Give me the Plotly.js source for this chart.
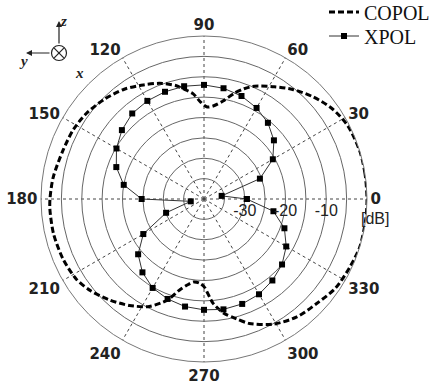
<!DOCTYPE html>
<html>
<head>
<meta charset="utf-8">
<script src="https://cdn.plot.ly/plotly-3.0.1.min.js"></script>
<style>html,body{margin:0;padding:0;background:#fff;}#chart{width:444px;height:383px;}</style>
</head>
<body>
<div id="chart"></div>
<script>
// COPOL pattern (angle in degrees, level in dB)
const copolAngle = [0,9,17,27,35,43,51,58,66,70,74,79,84,88,92,96,101,104,111,118,126,135,144,152,161,172,180,184,193,203,212,219,227,235,243,250,255,259,263,267,270,275,280,285,290,299,308,317,326,335,343,353,360];
const copolDb = [0,0,0,-0.4,-1.5,-3.3,-5.4,-7.5,-9.7,-11.2,-13,-15.5,-17,-17.4,-16.2,-14,-12.4,-11.3,-9.6,-8.3,-6.7,-5.4,-4.3,-3.7,-3.4,-2.6,-2.2,-2.1,-2.1,-2.4,-3,-4.2,-6.1,-8.1,-10.4,-13.6,-16.9,-18.5,-19.5,-19.3,-18.5,-14.3,-11.5,-9.6,-7.5,-4.9,-3.2,-2.3,-1,-0.5,0,0,0];

// XPOL pattern (measured every 10 degrees)
const xpolAngle = [0,10,20,30,40,50,60,70,80,90,100,110,120,130,140,150,160,170,180,190,200,210,220,230,240,250,260,270,280,290,300,310,320,330,340,350,360];
const xpolDb = [-29.5,-35.6,-25.4,-20.5,-17.6,-15.6,-14.2,-13.1,-12.4,-12.0,-11.9,-12.0,-12.2,-12.6,-13.7,-15.2,-17.1,-20.0,-24.7,-36.7,-30.1,-22.8,-18.9,-16.5,-14.8,-13.9,-13.2,-12.8,-12.5,-12.6,-13.0,-13.9,-15.0,-16.7,-19.0,-22.7,-29.5];

// Axis ticks
const radialTickVals = [-40,-35,-30,-25,-20,-15,-10,-5,0];
const radialTickText = ['','','-30','','-20','','-10','',''];
const angleTickVals = [0,30,60,90,120,150,180,210,240,270,300,330];
const angleTickText = ['0','30','60','90','120','150','180','210','240','270','300','330'];

const traces = [
  {
    type: 'scatterpolar', mode: 'lines', name: 'COPOL', legend: 'legend',
    theta: copolAngle, r: copolDb,
    line: {color: '#000', width: 3, dash: '6px,3px', shape: 'spline', smoothing: 0.8}
  },
  {
    type: 'scatterpolar', mode: 'lines+markers', name: 'XPOL', legend: 'legend2',
    theta: xpolAngle, r: xpolDb,
    line: {color: '#333', width: 1},
    marker: {symbol: 'square', size: 6, color: '#000'}
  }
];

const W = 444, H = 383, L = 41, R = 77, T = 36, B = 21;
const pw = W - L - R, ph = H - T - B;
const px = x => (x - L) / pw;
const py = y => (H - B - y) / ph;

const legendFont = {family: 'Liberation Serif', size: 20, color: '#111'};

const layout = {
  width: W, height: H,
  margin: {l: L, r: R, t: T, b: B, pad: 0, autoexpand: false},
  paper_bgcolor: '#fff',
  showlegend: true,
  legend: {
    x: px(324), y: py(12), xanchor: 'left', yanchor: 'middle',
    bgcolor: 'rgba(0,0,0,0)', borderwidth: 0, font: legendFont, itemwidth: 30
  },
  legend2: {
    x: px(324), y: py(36), xanchor: 'left', yanchor: 'middle',
    bgcolor: 'rgba(0,0,0,0)', borderwidth: 0, font: legendFont, itemwidth: 30
  },
  polar: {
    domain: {x: [0, 1], y: [0, 1]},
    bgcolor: '#fff',
    radialaxis: {
      range: [-40, 0], angle: 0, side: 'clockwise',
      tickvals: radialTickVals, ticktext: radialTickText,
      ticks: '', showline: false,
      gridcolor: '#666', gridwidth: 1,
      tickfont: {family: 'Liberation Sans', size: 16, color: '#222'}
    },
    angularaxis: {
      rotation: 0, direction: 'counterclockwise',
      tickvals: angleTickVals, ticktext: angleTickText,
      ticks: '', showline: true, linecolor: '#777', linewidth: 1,
      gridcolor: '#444', griddash: 'dot', gridwidth: 1,
      tickfont: {family: 'DejaVu Sans', size: 15, color: '#222', weight: 'bold'}
    }
  },
  annotations: [
    {xref: 'paper', yref: 'paper', x: px(391), y: py(218), text: '[dB]', showarrow: false,
     font: {family: 'Liberation Sans', size: 16, color: '#222'}},
    // coordinate indicator
    {xref: 'paper', yref: 'paper', x: px(59), y: py(21), ax: 0, ay: 24, text: '', showarrow: true,
     arrowhead: 2, arrowsize: 1, arrowwidth: 1.2, arrowcolor: '#222'},
    {xref: 'paper', yref: 'paper', x: px(26), y: py(53), ax: 25, ay: 0, text: '', showarrow: true,
     arrowhead: 2, arrowsize: 1, arrowwidth: 1.2, arrowcolor: '#222'},
    {xref: 'paper', yref: 'paper', x: px(58), y: py(11), text: '<i><b>z</b></i>', showarrow: false,
     font: {family: 'Liberation Serif', size: 15, color: '#222'}},
    {xref: 'paper', yref: 'paper', x: px(17), y: py(51), text: '<i><b>y</b></i>', showarrow: false,
     font: {family: 'Liberation Serif', size: 15, color: '#222'}},
    {xref: 'paper', yref: 'paper', x: px(73), y: py(63), text: '<i><b>x</b></i>', showarrow: false,
     font: {family: 'Liberation Serif', size: 15, color: '#222'}}
  ],
  shapes: [
    {type: 'circle', xref: 'paper', yref: 'paper', x0: px(51.5), x1: px(66.5), y0: py(60.5), y1: py(45.5),
     line: {color: '#222', width: 1.2}, fillcolor: '#fff'},
    {type: 'line', xref: 'paper', yref: 'paper', x0: px(54.2), x1: px(63.8), y0: py(48.2), y1: py(57.8),
     line: {color: '#222', width: 1.2}},
    {type: 'line', xref: 'paper', yref: 'paper', x0: px(54.2), x1: px(63.8), y0: py(57.8), y1: py(48.2),
     line: {color: '#222', width: 1.2}}
  ]
};

Plotly.newPlot('chart', traces, layout, {staticPlot: true, displayModeBar: false});
</script>
</body>
</html>
